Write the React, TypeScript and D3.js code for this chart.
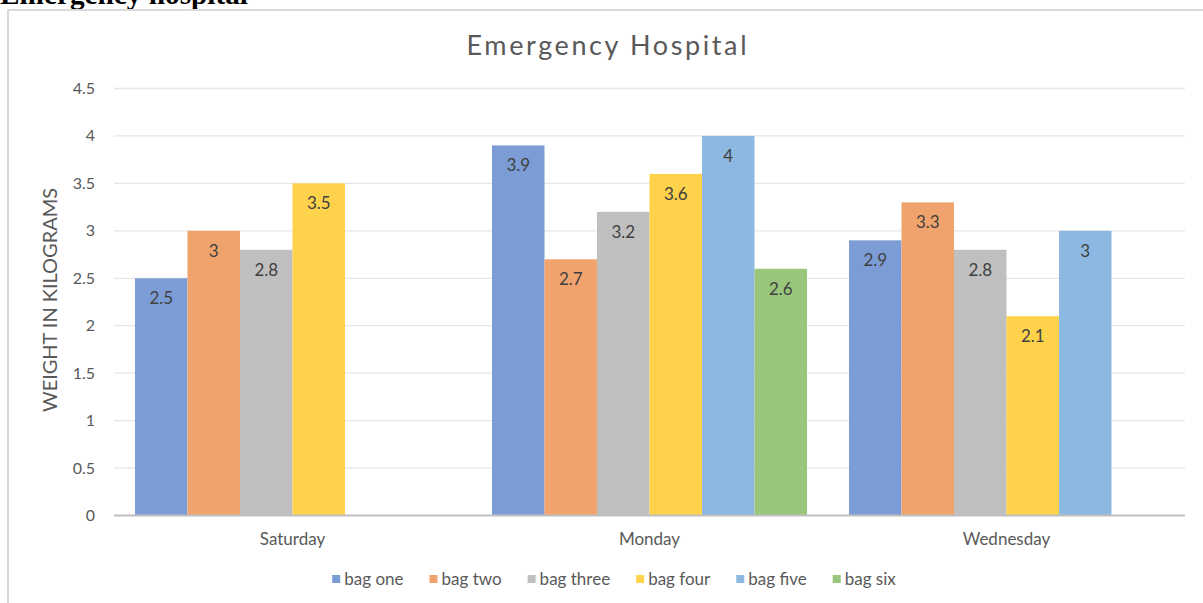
import React from "react";
import * as d3 from "d3";

const categories = ["Saturday", "Monday", "Wednesday"];
const seriesNames = ["bag one", "bag two", "bag three", "bag four", "bag five", "bag six"];
const bagOne = [2.5, 3.9, 2.9];
const bagTwo = [3, 2.7, 3.3];
const bagThree = [2.8, 3.2, 2.8];
const bagFour = [3.5, 3.6, 2.1];
const bagFive: (number | null)[] = [null, 4, 3];
const bagSix: (number | null)[] = [null, 2.6, null];
const yTicks = [0, 0.5, 1, 1.5, 2, 2.5, 3, 3.5, 4, 4.5];
const colors = ["#7b9cd5", "#f0a36d", "#bfbfbf", "#ffd24c", "#8cb8e2", "#9ac67c"];

const FONT = "Lato, 'Open Sans', sans-serif";

function measure(text: string, size: number): number {
  if (typeof document === "undefined") return text.length * size * 0.5;
  const c = document.createElement("canvas");
  const ctx = c.getContext("2d");
  if (!ctx) return text.length * size * 0.5;
  ctx.font = `${size}px Lato`;
  return ctx.measureText(text).width;
}

export default function App() {
  const W = 1203;
  const H = 603;
  const series = [bagOne, bagTwo, bagThree, bagFour, bagFive, bagSix];
  const plotL = 114;
  const plotR = 1185;
  const x0 = d3.scaleBand<string>().domain(categories).range([plotL, plotR]).paddingInner(0).paddingOuter(0);
  const bw = x0.bandwidth();
  const inner = d3
    .scaleBand<string>()
    .domain(seriesNames)
    .range([bw * 0.0588, bw * (1 - 0.0588)])
    .padding(0);
  const y = d3.scaleLinear().domain([0, 4.5]).range([515.5, 88.5]);

  // legend layout
  const legendSize = 17;
  const sq = 8;
  const widths = seriesNames.map((s) => measure(s, legendSize));
  const itemW = widths.map((w) => sq + 4 + w);
  const gap = 26;
  const total = itemW.reduce((a, b) => a + b, 0) + gap * (itemW.length - 1);
  let lx = 614 - total / 2;
  const legendX: number[] = [];
  itemW.forEach((w) => {
    legendX.push(lx);
    lx += w + gap;
  });

  return (
    <svg
      width={W}
      height={H}
      style={{ position: "absolute", left: 0, top: 0, background: "#fff" }}
      fontFamily={FONT}
    >
      <text
        x={0}
        y={4}
        textAnchor="start"
        fontFamily="'Liberation Serif', 'Times New Roman', serif"
        fontWeight="bold"
        fontSize={29}
        fill="#000"
        textLength={248}
        lengthAdjust="spacingAndGlyphs"
      >
        Emergency hospital
      </text>
      <rect x={8} y={10} width={1220} height={620} fill="#fff" stroke="#d9d9d9" strokeWidth={2} />

      <text x={606.5} y={54.5} textAnchor="middle" fontSize={27} fill="#595959" textLength={280} lengthAdjust="spacing">
        Emergency Hospital
      </text>

      {yTicks.map((t) => (
        <g key={t}>
          {t > 0 && <line x1={plotL} x2={plotR} y1={y(t)} y2={y(t)} stroke="#e6e6e6" strokeWidth={1.3} />}
          <text x={95} y={y(t) + 5.5} textAnchor="end" fontSize={16} fill="#595959">
            {t}
          </text>
        </g>
      ))}

      <text
        transform={`translate(57,300) rotate(-90)`}
        textAnchor="middle"
        fontSize={20}
        fill="#595959"
        textLength={224}
        lengthAdjust="spacingAndGlyphs"
      >
        WEIGHT IN KILOGRAMS
      </text>

      {categories.map((c, ci) => (
        <g key={c} transform={`translate(${x0(c)},0)`}>
          {series.map((s, si) => {
            const v = s[ci];
            if (v == null) return null;
            const bx = inner(seriesNames[si])!;
            return (
              <g key={si}>
                <rect x={bx} y={y(v)} width={inner.bandwidth()} height={y(0) - y(v)} fill={colors[si]} />
                <text
                  x={bx + inner.bandwidth() / 2}
                  y={y(v) + 26}
                  textAnchor="middle"
                  fontSize={17}
                  fill="#404040"
                >
                  {v}
                </text>
              </g>
            );
          })}
          <text x={bw / 2} y={545} textAnchor="middle" fontSize={17} fill="#595959">
            {c}
          </text>
        </g>
      ))}

      <line x1={plotL} x2={plotR} y1={y(0)} y2={y(0)} stroke="#bfbfbf" strokeWidth={2} />

      {seriesNames.map((s, i) => (
        <g key={s}>
          <rect x={legendX[i]} y={575} width={sq} height={sq} fill={colors[i]} />
          <text x={legendX[i] + sq + 4} y={585} fontSize={legendSize} fill="#595959">
            {s}
          </text>
        </g>
      ))}
    </svg>
  );
}
